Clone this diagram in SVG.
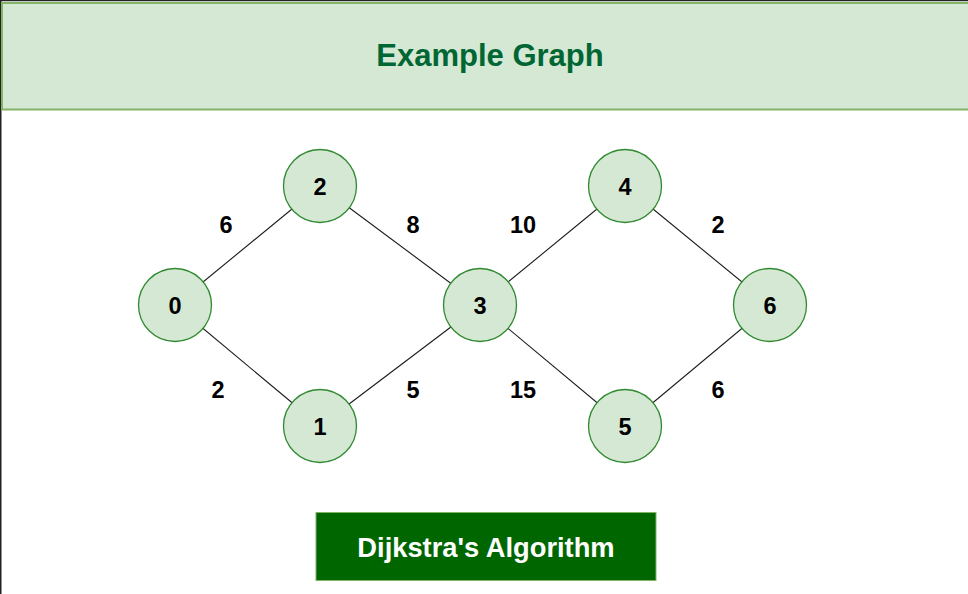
<svg xmlns="http://www.w3.org/2000/svg" width="968" height="594" viewBox="0 0 968 594">
<style>
.edge{stroke:#1a1a1a;stroke-width:1.1;fill:none}
.node circle{fill:#d5e8d4;stroke:#2f8a2f;stroke-width:1.3}
.lbl{font-family:"Liberation Sans",Arial,sans-serif;font-weight:bold;font-size:23.5px;fill:#000;text-anchor:middle}
.elbl{font-family:"Liberation Sans",Arial,sans-serif;font-weight:bold;font-size:23.5px;fill:#000;text-anchor:middle}
</style>
<rect width="968" height="594" fill="#fff"/>
<rect x="0.75" y="0.5" width="1000" height="1000" fill="none" stroke="#222" stroke-width="1.5"/>
<g id="header">
<rect x="2" y="3" width="1000" height="106.5" fill="#d5e8d4" stroke="#82b366" stroke-width="2"/>
<text x="490" y="66" font-family="Liberation Sans, Arial, sans-serif" font-weight="bold" font-size="31" fill="#006633" text-anchor="middle">Example Graph</text>
</g>
<g id="connectors">
<line class="edge" x1="175" y1="305" x2="320" y2="186"/>
<line class="edge" x1="175" y1="305" x2="320" y2="426"/>
<line class="edge" x1="320" y1="186" x2="480" y2="305"/>
<line class="edge" x1="320" y1="426" x2="480" y2="305"/>
<line class="edge" x1="480" y1="305" x2="625" y2="186"/>
<line class="edge" x1="480" y1="305" x2="625" y2="426"/>
<line class="edge" x1="625" y1="186" x2="770" y2="305"/>
<line class="edge" x1="625" y1="426" x2="770" y2="305"/>
<text class="elbl" x="226" y="232.5">6</text>
<text class="elbl" x="413" y="232.5">8</text>
<text class="elbl" x="523" y="232.5">10</text>
<text class="elbl" x="718" y="232.5">2</text>
<text class="elbl" x="218" y="397.5">2</text>
<text class="elbl" x="413" y="397.5">5</text>
<text class="elbl" x="523" y="397.5">15</text>
<text class="elbl" x="718" y="397.5">6</text>
</g>
<g id="node0" class="node"><circle cx="175" cy="305" r="36.5"/><text class="lbl" x="175" y="313.5">0</text></g>
<g id="node1" class="node"><circle cx="320" cy="426" r="36.5"/><text class="lbl" x="320" y="434.5">1</text></g>
<g id="node2" class="node"><circle cx="320" cy="186" r="36.5"/><text class="lbl" x="320" y="194.5">2</text></g>
<g id="node3" class="node"><circle cx="480" cy="305" r="36.5"/><text class="lbl" x="480" y="313.5">3</text></g>
<g id="node4" class="node"><circle cx="625" cy="186" r="36.5"/><text class="lbl" x="625" y="194.5">4</text></g>
<g id="node5" class="node"><circle cx="625" cy="426" r="36.5"/><text class="lbl" x="625" y="434.5">5</text></g>
<g id="node6" class="node"><circle cx="770" cy="305" r="36.5"/><text class="lbl" x="770" y="313.5">6</text></g>
<g id="button">
<rect x="316" y="512.5" width="340" height="68" fill="#006600" stroke="#82b366" stroke-width="1"/>
<text x="486" y="556.5" font-family="Liberation Sans, Arial, sans-serif" font-weight="bold" font-size="27.3" fill="#fff" text-anchor="middle">Dijkstra's Algorithm</text>
</g>
</svg>
